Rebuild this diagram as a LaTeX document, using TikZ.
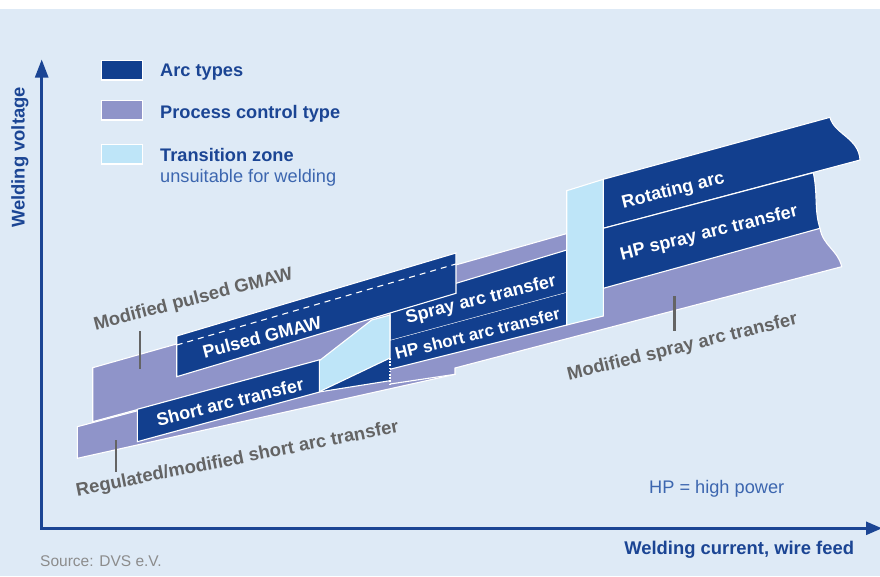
\documentclass[tikz,border=0pt]{standalone}
\usepackage{fontspec}
\setmainfont{Liberation Sans}
\usetikzlibrary{arrows.meta}
\definecolor{bgblue}{HTML}{DEEAF6}
\definecolor{arcblue}{HTML}{123F8E}
\definecolor{proc}{HTML}{8F94C9}
\definecolor{trans}{HTML}{BEE5F8}
\definecolor{graytxt}{HTML}{646464}
\definecolor{axisblue}{HTML}{1B4594}
\definecolor{midblue}{HTML}{3C66AF}
\definecolor{srcgray}{HTML}{8C8C8C}
\newcommand\lblfont{\fontsize{18pt}{22pt}\selectfont\bfseries}
\newcommand\gryfont{\fontsize{18.4pt}{22pt}\selectfont\bfseries}
\begin{document}
\begin{tikzpicture}[x=1pt,y=-1pt,
  edge/.style={draw=white, line width=1.1pt, line join=miter},
  arcband/.style={edge, fill=arcblue},
  procband/.style={edge, fill=proc},
  transband/.style={edge, fill=trans},
  inlbl/.style={text=white, font=\lblfont, inner sep=0pt},
  grylbl/.style={text=graytxt, font=\gryfont, inner sep=0pt},
  leader/.style={draw=graytxt, line width=2.6pt},
  axisline/.style={draw=axisblue, line width=2.6pt, line join=miter,
    {Triangle[length=18pt,width=13pt]}-{Triangle[length=16pt,width=13pt]}},
  legbox/.style={draw=white, line width=1.2pt, minimum width=41pt, minimum height=19.3pt, inner sep=0pt},
  legtxt/.style={text=axisblue, font=\fontsize{18.2pt}{22pt}\selectfont\bfseries, inner sep=0pt, anchor=base west},
]
\useasboundingbox (0,0) rectangle (880,576);
\fill[white] (0,0) rectangle (880,9);
\fill[bgblue] (0,9) rectangle (880,576);

% lower lavender band (regulated/modified short arc)
\path[procband] (77.3,426.7) -- (455,326.7) -- (455,374.3) -- (77.3,458.3) -- cycle;
% upper lavender band (modified pulsed GMAW)
\path[procband] (92.7,367.7) -- (567,233.5) -- (567,293) -- (92.7,421.7) -- cycle;
% modified spray arc band
\fill[proc] (390,345) -- (603.3,288.3) -- (820,228.3) .. controls (823,246) and (838,250) .. (841.7,266.7)
  -- (455,368) -- (455,374.3) -- (390,384) -- cycle;
\draw[edge] (390,384) -- (455,374.3) -- (455,368) -- (841.7,266.7) .. controls (838,250) and (823,246) .. (820,228.3);

% short arc transfer band
\fill[arcblue] (137.3,409.3) -- (320.7,359.5) -- (390,340) -- (390,380.7) -- (320.7,391.7) -- (137.3,441.7) -- cycle;
\draw[edge] (320.7,359.5) -- (137.3,409.3) -- (137.3,441.7) -- (320.7,391.7) -- (390,380.7);

% spray arc transfer
\path[arcband] (390,303.2) -- (566.7,250) -- (566.7,292.7) -- (390,340.7) -- cycle;
% HP short arc transfer
\fill[arcblue] (390,340.7) -- (566.7,292.7) -- (566.7,325) -- (390,369.3) -- cycle;
\draw[edge] (566.7,292.7) -- (566.7,325) -- (390,369.3);

% transition zone (left)
\path[transband] (319.3,360.7) -- (371.7,320) -- (390,315) -- (390,358) -- (319.3,391.7) -- cycle;

% pulsed GMAW
\path[arcband] (176.7,336) -- (456,253) -- (456,293.3) -- (176.7,376.7) -- cycle;
\draw[white, line width=1.1pt, dash pattern=on 6pt off 5pt] (176.7,345) -- (456,264);

% transition zone (right)
\path[transband] (566.7,190.7) -- (603.3,179.3) -- (603.3,316) -- (566.7,325) -- cycle;

% rotating arc
\path[arcband] (603.3,179.3) -- (830,117.3) .. controls (834,134) and (859,138) .. (860,160) -- (603.3,228.3) -- cycle;
% HP spray arc transfer
\path[arcband] (603.3,228.3) -- (813.3,172.7) .. controls (818,195) and (814,210) .. (820,228.3) -- (603.3,288.3) -- cycle;

% dotted boundary
\draw[white, line width=1.1pt, dash pattern=on 1.6pt off 1.6pt] (390,358) -- (390,384);

% labels in bands
\node[inlbl, rotate=14.5] (tPulsed) at (262,337) {Pulsed GMAW};
\node[inlbl, rotate=14] (tShort) at (230,402) {Short arc transfer};
\node[inlbl, rotate=14] (tSpray) at (481,300) {Spray arc transfer};
\node[inlbl, rotate=14, font=\fontsize{17pt}{20pt}\selectfont\bfseries] (tHPshort) at (477.5,333.5) {HP short arc transfer};
\node[inlbl, rotate=14] (tRot) at (673.3,191) {Rotating arc};
\node[inlbl, rotate=14] (tHPspray) at (709.2,233.5) {HP spray arc transfer};

% gray labels with leaders
\node[grylbl, rotate=14.5] (gPulsed) at (193.4,300) {Modified pulsed GMAW};
\node[grylbl, rotate=11.2] (gShort) at (237.5,459.5) {Regulated/modified short arc transfer};
\node[grylbl, rotate=13.8] (gSpray) at (682.5,347.5) {Modified spray arc transfer};
\coordinate (lpA) at (140,331);
\coordinate (lpB) at (140,369);
\coordinate (lsA) at (116,440);
\coordinate (lsB) at (116,472);
\coordinate (lmA) at (674.3,296);
\coordinate (lmB) at (674.3,331);
\draw[leader] (lpA) -- (lpB);
\draw[leader] (lsA) -- (lsB);
\draw[leader] (lmA) -- (lmB);

% axes
\coordinate (Ytip) at (41.7,59.5);
\coordinate (Orig) at (41.7,528.3);
\coordinate (Xtip) at (882,528.3);
\draw[axisline] (Ytip) -- (Orig) -- (Xtip);
\node[rotate=90, text=axisblue, font=\fontsize{18.4pt}{22pt}\selectfont\bfseries, inner sep=0pt] (ylab) at (20,157.5) {Welding voltage};
\node[text=axisblue, font=\fontsize{18.4pt}{22pt}\selectfont\bfseries, inner sep=0pt] (xlab) at (739.2,550) {Welding current, wire feed};

% legend
\node[legbox, fill=arcblue] (kA) at (122.2,70.35) {};
\node[legbox, fill=proc] (kP) at (122.2,110.35) {};
\node[legbox, fill=trans] (kT) at (122.2,154.3) {};
\node[legtxt] (lgA) at (160,76) {Arc types};
\node[legtxt] (lgP) at (160,118.3) {Process control type};
\node[legtxt] (lgT) at (160,161.7) {Transition zone};
\node[legtxt, text=midblue, font=\fontsize{18.2pt}{22pt}\selectfont] (lgU) at (160,182.7) {unsuitable for welding};

\node[text=midblue, font=\fontsize{18.2pt}{22pt}\selectfont, inner sep=0pt] (hp) at (716.7,489) {HP = high power};
\node[text=srcgray, font=\fontsize{15.5pt}{18pt}\selectfont, inner sep=0pt, anchor=west] (src) at (40,561) {Source: DVS e.V.};
\end{tikzpicture}
\end{document}
